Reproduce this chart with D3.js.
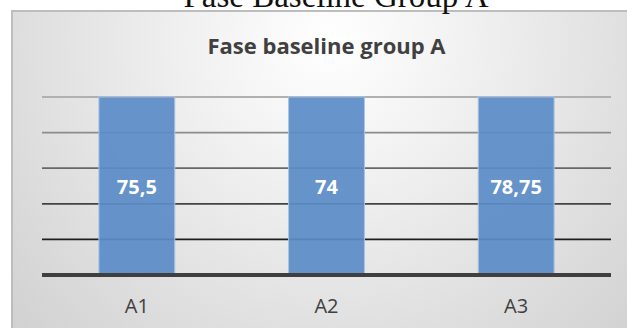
<!DOCTYPE html>
<html>
<head>
<meta charset="utf-8">
<script src="https://cdn.jsdelivr.net/npm/d3@7"></script>
<style>
  html, body { margin: 0; padding: 0; background: #fff; }
  svg { display: block; }
</style>
</head>
<body>
<svg id="chart" width="627" height="328"></svg>
<script>
// ---- data ----
const pageHeading = "Fase Baseline Group A";
const chartTitle = "Fase baseline group A";
const categories = ["A1", "A2", "A3"];
const values = [75.5, 74, 78.75];
const valueLabels = ["75,5", "74", "78,75"];
const yTicks = [0, 10, 20, 30, 40, 50];

// ---- layout ----
const W = 627, H = 328;
const plot = { left: 42, right: 611, top: 97, bottom: 275 };

const svg = d3.select("#chart");
const defs = svg.append("defs");

const grad = defs.append("radialGradient")
  .attr("id", "bg").attr("gradientUnits", "userSpaceOnUse")
  .attr("cx", 330).attr("cy", 40).attr("r", 420);
grad.append("stop").attr("offset", "0").attr("stop-color", "#ffffff");
grad.append("stop").attr("offset", "0.35").attr("stop-color", "#f0f0f0");
grad.append("stop").attr("offset", "1").attr("stop-color", "#d2d2d2");

// chart box (extends beyond right/bottom of the picture)
svg.append("rect")
  .attr("x", 12).attr("y", 11)
  .attr("width", 640).attr("height", 340)
  .attr("fill", "url(#bg)")
  .attr("stroke", "#bdbdbd").attr("stroke-width", 2);

// page heading (serif, cut at top as in the source)
svg.append("text")
  .attr("x", 336).attr("y", 7)
  .attr("text-anchor", "middle")
  .attr("font-family", "'Liberation Serif', 'Times New Roman', serif")
  .attr("font-size", 33)
  .attr("fill", "#111")
  .text(pageHeading);

// title
svg.append("text")
  .attr("x", (plot.left + plot.right) / 2).attr("y", 54)
  .attr("text-anchor", "middle")
  .attr("font-family", "'Open Sans', sans-serif")
  .attr("font-weight", "bold")
  .attr("font-size", 22)
  .attr("fill", "#404040")
  .text(chartTitle);

const x = d3.scaleBand()
  .domain(categories)
  .range([plot.left, plot.right])
  .paddingInner(0.6).paddingOuter(0.3);

const y = d3.scaleLinear()
  .domain([yTicks[0], yTicks[yTicks.length - 1]])
  .range([plot.bottom, plot.top])
  .clamp(true);

const gridColor = d3.scaleLinear()
  .domain([yTicks[1], yTicks[yTicks.length - 1]])
  .range(["#1e1e1e", "#b0b0b0"]);

// gridlines
svg.append("g").selectAll("line")
  .data(yTicks.slice(1))
  .join("line")
  .attr("x1", plot.left).attr("x2", plot.right)
  .attr("y1", d => y(d)).attr("y2", d => y(d))
  .attr("stroke", d => gridColor(d))
  .attr("stroke-width", 1.8);

// bars
svg.append("g").selectAll("rect")
  .data(values)
  .join("rect")
  .attr("x", (d, i) => x(categories[i]))
  .attr("width", x.bandwidth())
  .attr("y", d => y(d))
  .attr("height", d => y(0) - y(d))
  .attr("fill", "#5b8cc6")
  .attr("fill-opacity", 0.93)
  .attr("stroke", "#a9c3e4")
  .attr("stroke-width", 1);

// value labels
svg.append("g").selectAll("text")
  .data(values)
  .join("text")
  .attr("x", (d, i) => x(categories[i]) + x.bandwidth() / 2)
  .attr("y", d => (y(d) + y(0)) / 2 + 8)
  .attr("text-anchor", "middle")
  .attr("font-family", "'Open Sans', sans-serif")
  .attr("font-weight", "bold")
  .attr("font-size", 20)
  .attr("fill", "#ffffff")
  .text((d, i) => valueLabels[i]);

// x axis
const xAxis = d3.axisBottom(x).tickSize(0).tickPadding(0);
const gx = svg.append("g")
  .attr("transform", `translate(0,${plot.bottom})`)
  .call(xAxis);
gx.select(".domain")
  .attr("d", `M${plot.left},0H${plot.right}`)
  .attr("stroke", "#3f3f3f").attr("stroke-width", 4);
gx.selectAll(".tick text")
  .attr("y", 38).attr("dy", 0)
  .attr("font-family", "'Open Sans', sans-serif")
  .attr("font-size", 20)
  .attr("fill", "#404040");
</script>
</body>
</html>
